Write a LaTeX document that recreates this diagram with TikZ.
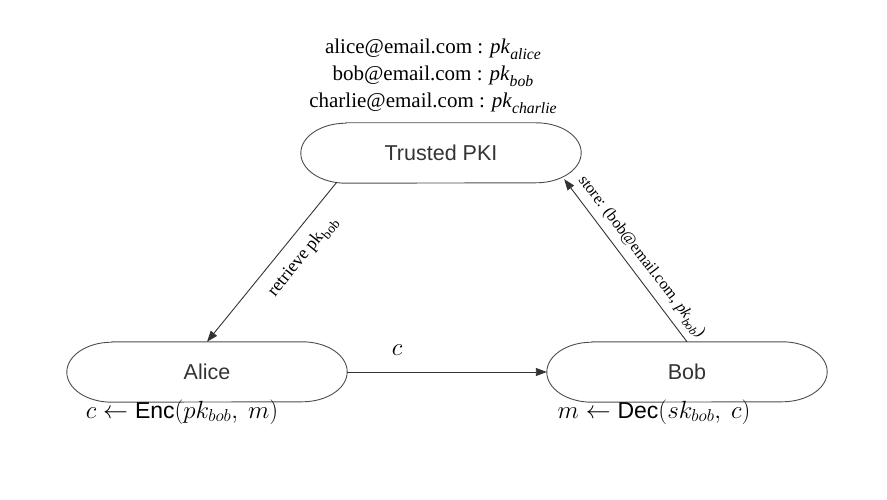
\documentclass[tikz,border=0pt]{standalone}
\usepackage{fontspec}
\usepackage{graphicx}
\setmainfont{Liberation Serif}
\setsansfont{Liberation Sans}
\usetikzlibrary{arrows.meta,calc}
\definecolor{edgegray}{HTML}{333333}
\definecolor{shapegray}{HTML}{4D4D4D}
\definecolor{txtgray}{HTML}{333333}
\newcommand{\kk}[2]{\textit{#1}\raisebox{-0.28em}{\scalebox{0.75}{\textit{#2}}}}
\newcommand{\ku}[2]{#1\raisebox{-0.28em}{\scalebox{0.75}{#2}}}
\newcommand{\stadium}[1]{%
  \draw[shapeline] ([xshift=45pt]#1.north west) -- ([xshift=-45pt]#1.north east)
    arc[start angle=90,end angle=-90,x radius=45pt,y radius=30pt]
    -- ([xshift=45pt]#1.south west)
    arc[start angle=270,end angle=90,x radius=45pt,y radius=30pt] -- cycle;}
\tikzset{
  party/.style={minimum width=280pt,minimum height=60pt,inner sep=0pt,
    font=\sffamily\fontsize{21.5}{24}\selectfont,text=txtgray},
  shapeline/.style={draw=shapegray,line width=0.9pt},
  conn/.style={draw=edgegray,line width=0.9pt,-{Triangle[length=11pt,width=8pt]}},
  lbl/.style={font=\fontsize{18}{21}\selectfont,inner sep=1pt},
  mathlbl/.style={font=\fontsize{23}{25}\selectfont,inner sep=1pt},
}
\begin{document}
\begin{tikzpicture}[x=1pt,y=-1pt]
\useasboundingbox (0,0) rectangle (887,500);
\node[party] (pki) at (441,153) {Trusted PKI};
\node[party] (alice) at (207,372) {Alice};
\node[party] (bob) at (687,372) {Bob};
\stadium{pki}
\stadium{alice}
\stadium{bob}
\node[lbl,align=center,font=\fontsize{21}{27}\selectfont] (dir) at (433,76)
  {alice@email.com : \kk{pk}{alice}\\ bob@email.com : \kk{pk}{bob}\\ charlie@email.com : \kk{pk}{charlie}};
\draw[conn] ([xshift=36pt,yshift=1pt]pki.south west) -- (alice.north);
\draw[conn] (bob.north) -- ([xshift=-17pt,yshift=4pt]pki.south east);
\draw[conn] (alice.east) -- (bob.west);
\node[mathlbl,font=\fontsize{27}{29}\selectfont] (clbl) at (397,350) {$c$};
\node[lbl,rotate=51] (rlbl) at (303,257) {retrieve \ku{pk}{bob}};
\node[lbl,rotate=-52.6,font=\fontsize{16}{19}\selectfont] (slbl) at (641,257) {store: (bob@email.com, \kk{pk}{bob})};
\node[mathlbl] (enc) at (182,412) {$c \leftarrow \textsf{Enc}(pk_{bob},\ m)$};
\node[mathlbl] (dec) at (654,412) {$m \leftarrow \textsf{Dec}(sk_{bob},\ c)$};
\end{tikzpicture}
\end{document}
